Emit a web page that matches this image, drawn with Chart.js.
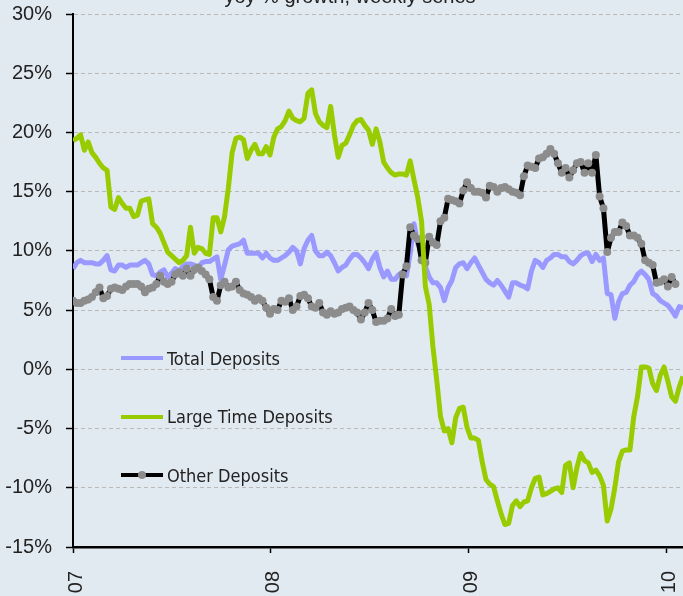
<!DOCTYPE html>
<html>
<head>
<meta charset="utf-8">
<script src="https://cdn.jsdelivr.net/npm/chart.js@4/dist/chart.umd.min.js"></script>
<style>
  html, body { margin: 0; padding: 0; background: #e2eaf1; overflow: hidden; }
  #wrap { position: relative; width: 683px; height: 596px; }
  #legend { position: absolute; left: 121px; top: 348px; font-family: "DejaVu Sans Condensed", "DejaVu Sans", sans-serif; font-size: 18px; color: #222; }
  .item { position: absolute; left: 0; height: 20px; display: flex; align-items: center; white-space: nowrap; }
  .swatch { position: relative; width: 42px; height: 4px; margin-right: 4px; }
  .dot { position: absolute; left: 17px; top: -2px; width: 8px; height: 8px; border-radius: 50%; background: #8c8c8c; }
</style>
</head>
<body>
<div id="wrap">
  <canvas id="chart" width="683" height="596"></canvas>
  <div id="legend"></div>
</div>
<script>
// yoy % growth, one value per week starting with the first week of 2007
const chartTitle = "yoy % growth, weekly series";
const seriesNames = ["Total Deposits", "Large Time Deposits", "Other Deposits"];

const totalDeposits = [
  8.5, 9.0, 9.2, 9.0, 9.0, 9.0, 8.9, 8.9, 9.2, 9.6,
  8.4, 8.3, 8.8, 8.8, 8.6, 8.8, 8.8, 8.8, 9.0, 9.2,
  8.9, 8.0, 7.9, 8.2, 8.4, 7.8, 8.1, 8.5, 8.3, 8.7,
  8.9, 8.9, 8.8, 8.5, 9.0, 9.1, 9.1, 9.3, 9.5, 7.6,
  8.8, 10.1, 10.4, 10.5, 10.6, 10.9, 9.8, 9.8, 9.8, 9.8,
  9.4, 9.8, 9.4, 9.2, 9.2, 9.4, 9.6, 9.9, 10.3, 10.0,
  8.9, 10.2, 10.9, 11.3, 10.0, 9.6, 9.6, 9.9, 9.6, 9.0,
  8.3, 8.6, 8.8, 9.3, 9.7, 9.7, 9.4, 9.0, 8.5, 9.3,
  9.8, 8.6, 7.8, 8.3, 7.6, 7.6, 8.0, 8.2, 7.9, 9.8,
  12.3, 10.6, 10.0, 8.7, 7.8, 7.3, 7.3, 6.9, 5.8, 6.9,
  7.5, 8.6, 8.9, 9.0, 8.5, 9.0, 9.4, 8.8, 8.2, 7.6,
  7.3, 7.1, 7.5, 7.1, 6.6, 6.1, 7.3, 7.3, 7.1, 7.0,
  6.8, 8.3, 9.2, 9.0, 8.6, 9.2, 9.4, 9.7, 9.7, 9.5,
  9.5, 9.1, 8.9, 9.2, 9.6, 9.8, 9.8, 9.1, 9.7, 9.2,
  9.4, 6.4, 6.3, 4.3, 5.7, 6.4, 6.5, 7.1, 7.4, 8.0,
  8.3, 8.0, 7.6, 6.4, 6.2, 5.8, 5.6, 5.4, 5.0, 4.5,
  5.3, 5.2
];

const largeTimeDeposits = [
  19.3, 19.5, 19.8, 18.5, 19.2, 18.3, 17.9, 17.4, 17.0, 16.8,
  13.7, 13.5, 14.5, 14.0, 13.6, 13.6, 12.9, 13.0, 14.2, 14.3,
  14.4, 12.3, 12.0, 11.5, 10.7, 9.9, 9.6, 9.3, 9.0, 9.2,
  9.6, 12.0, 9.8, 10.3, 10.2, 9.8, 9.7, 12.8, 12.8, 11.6,
  12.9, 15.3, 18.3, 19.5, 19.6, 19.4, 17.8, 18.5, 19.0, 18.2,
  18.2, 18.8, 18.1, 19.6, 20.3, 20.5, 21.0, 21.8, 21.2, 21.0,
  20.9, 21.2, 23.3, 23.6, 21.6, 20.9, 20.6, 20.4, 22.2, 19.8,
  17.9, 18.9, 19.1, 19.8, 20.6, 21.0, 21.1, 20.6, 20.2, 19.0,
  20.3, 19.2, 17.5, 17.0, 16.6, 16.4, 16.5, 16.5, 16.4, 17.6,
  16.0, 14.5, 12.5, 7.0, 5.5, 1.9, -0.9, -4.0, -5.2, -5.0,
  -6.2, -4.1, -3.3, -3.2, -4.9, -5.8, -5.8, -6.0, -7.8, -9.3,
  -9.7, -9.9, -11.1, -12.2, -13.1, -13.0, -11.5, -11.1, -11.6, -11.2,
  -11.1, -10.0, -9.2, -9.1, -10.6, -10.5, -10.3, -10.1, -10.0, -10.4,
  -8.1, -7.9, -10.0, -8.3, -7.1, -7.7, -7.9, -8.7, -8.5, -9.0,
  -9.8, -12.8, -11.8, -10.0, -7.8, -6.9, -6.8, -6.8, -4.0, -2.3,
  0.2, 0.2, 0.1, -1.2, -1.8, -0.5, 0.2, -1.0, -2.3, -2.7,
  -1.5, -0.6
];

const otherDeposits = [
  5.8, 5.6, 5.6, 5.8, 5.9, 6.1, 6.5, 6.9, 6.0, 6.2,
  6.8, 6.9, 6.8, 6.7, 7.0, 7.2, 7.2, 7.2, 7.0, 6.5,
  6.8, 6.9, 7.2, 7.9, 7.4, 7.2, 7.4, 8.0, 8.2, 7.9,
  8.5, 7.9, 8.4, 8.6, 8.3, 8.0, 7.6, 6.1, 5.8, 7.1,
  7.4, 6.9, 7.0, 7.4, 6.7, 6.4, 6.3, 6.1, 5.8, 6.0,
  5.8, 5.2, 4.7, 5.1, 5.0, 5.8, 5.7, 6.0, 5.0, 5.3,
  6.2, 6.3, 6.0, 5.3, 5.2, 5.6, 4.8, 4.6, 4.9, 4.7,
  4.8, 5.1, 5.2, 5.3, 5.0, 4.8, 4.2, 4.8, 5.6, 5.0,
  4.0, 4.1, 4.1, 4.3, 5.1, 4.5, 4.6, 8.0, 8.7, 12.0,
  11.3, 11.0, 9.2, 9.0, 11.2, 10.7, 10.5, 12.5, 12.8, 14.4,
  14.3, 14.2, 14.0, 15.1, 15.8, 15.3, 15.0, 15.0, 14.9, 14.5,
  15.5, 15.4, 15.0, 15.3, 15.4, 15.2, 15.0, 14.9, 14.7, 16.3,
  17.2, 17.1, 17.0, 17.8, 17.9, 18.2, 18.6, 18.2, 17.4, 16.6,
  17.0, 16.2, 16.8, 17.4, 17.5, 16.6, 17.4, 16.6, 18.1, 14.6,
  13.6, 9.9, 11.1, 11.6, 11.6, 12.4, 12.1, 11.3, 11.3, 11.1,
  10.6, 9.2, 9.0, 8.8, 7.3, 7.4, 7.6, 7.0, 7.8, 7.2
];

// year marks on the week axis
const yearWeeks = [0, 52.18, 104.36, 156.54];
const yearLabels = ["07", "08", "09", "10"];
const lastWeek = 161;

function toPoints(values) {
  return values.map((v, i) => ({x: i, y: v}));
}

const labelFont = {family: '"Liberation Sans", Arial, sans-serif', size: 20};

const titlePlugin = {
  id: "cutTitle",
  afterDraw(chart) {
    const ctx = chart.ctx;
    ctx.save();
    ctx.font = '20px "Liberation Sans", Arial, sans-serif';
    ctx.fillStyle = "#222";
    ctx.textAlign = "center";
    ctx.textBaseline = "alphabetic";
    ctx.fillText(chartTitle, 350, 3);
    ctx.restore();
  }
};

const chart = new Chart(document.getElementById("chart").getContext("2d"), {
  type: "line",
  data: {
    datasets: [
      {
        label: seriesNames[0],
        data: toPoints(totalDeposits),
        borderColor: "#9999ff",
        backgroundColor: "#9999ff",
        borderWidth: 5,
        pointRadius: 0,
        order: 2
      },
      {
        label: seriesNames[1],
        data: toPoints(largeTimeDeposits),
        borderColor: "#99cc00",
        backgroundColor: "#99cc00",
        borderWidth: 5,
        pointRadius: 0,
        order: 0
      },
      {
        label: seriesNames[2],
        data: toPoints(otherDeposits),
        borderColor: "#000000",
        backgroundColor: "#8c8c8c",
        borderWidth: 5,
        pointRadius: 4,
        pointBorderWidth: 0,
        pointBackgroundColor: "#8c8c8c",
        order: 1
      }
    ]
  },
  options: {
    responsive: false,
    animation: false,
    events: [],
    layout: {autoPadding: false, padding: {top: 14, right: 0, left: 0, bottom: 0}},
    elements: {line: {tension: 0, borderJoinStyle: "round"}},
    scales: {
      x: {
        type: "linear",
        min: 0,
        max: lastWeek,
        afterBuildTicks: (scale) => { scale.ticks = yearWeeks.map(v => ({value: v})); },
        afterFit: (scale) => {
          scale.height = 49;
          scale.paddingLeft = 0;
          scale.paddingRight = 0;
        },
        ticks: {
          autoSkip: false,
          minRotation: 90,
          maxRotation: 90,
          padding: 18,
          labelOffset: 3,
          color: "#222",
          font: labelFont,
          callback: (value, index) => yearLabels[index]
        },
        grid: {drawOnChartArea: false, drawTicks: true, tickLength: 6, tickColor: "#000", tickWidth: 1.5},
        border: {color: "#000", width: 2.5}
      },
      y: {
        min: -15,
        max: 30,
        afterFit: (scale) => {
          scale.width = 73;
          scale.paddingTop = 0;
          scale.paddingBottom = 0;
        },
        ticks: {
          stepSize: 5,
          padding: 14,
          color: "#222",
          font: labelFont,
          callback: (value) => value + "%"
        },
        grid: {color: "#b9b9b9", lineWidth: 1, tickLength: 7, tickColor: "#000", tickWidth: 1.5},
        border: {color: "#000", width: 2, dash: [4, 3]}
      }
    },
    plugins: {
      legend: {display: false},
      tooltip: {enabled: false},
      title: {display: false}
    }
  },
  plugins: [titlePlugin]
});

// legend drawn as html inside the plot, three rows
const legendBox = document.getElementById("legend");
chart.data.datasets.forEach((ds, i) => {
  const row = document.createElement("div");
  row.className = "item";
  row.style.top = (i * 58.5) + "px";
  const sw = document.createElement("span");
  sw.className = "swatch";
  sw.style.background = ds.borderColor;
  if (ds.pointRadius > 0) {
    const dot = document.createElement("span");
    dot.className = "dot";
    sw.appendChild(dot);
  }
  row.appendChild(sw);
  row.appendChild(document.createTextNode(ds.label));
  legendBox.appendChild(row);
});
</script>
</body>
</html>
